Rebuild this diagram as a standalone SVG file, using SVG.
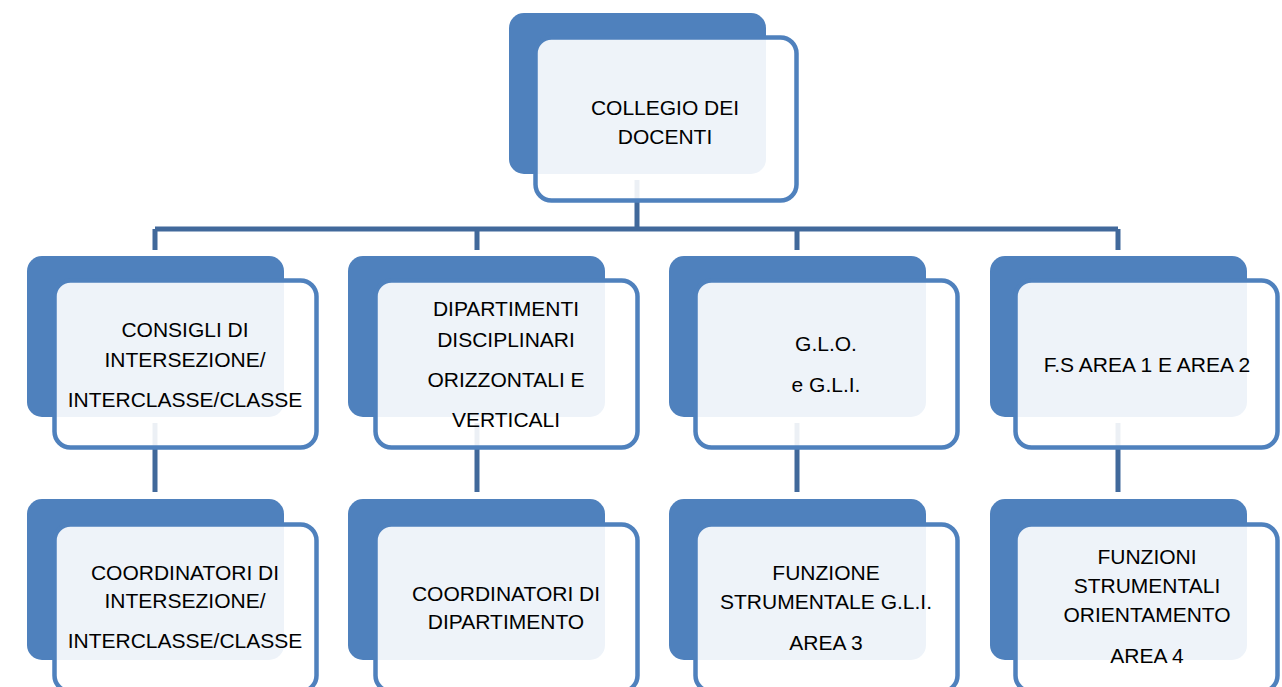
<svg xmlns="http://www.w3.org/2000/svg" width="1282" height="687" viewBox="0 0 1282 687">
<style>
.back{fill:#4f81bd}
.front{fill:#ffffff;fill-opacity:0.9;stroke:#4f81bd;stroke-width:4.5}
.conn{fill:none;stroke:#41699b;stroke-width:5}
text{font-family:"Liberation Sans",Arial,sans-serif;font-size:21px;fill:#000;text-anchor:middle}
</style>
<rect width="1282" height="687" fill="#ffffff"/>
<g id="connectors">
<path class="conn" d="M637 180V229M155 229H1118M155 229V250M477 229V250M797 229V250M1118 229V250"/>
<path class="conn" d="M155 423V492M477 423V492M797 423V492M1118 423V492"/>
</g>
<g id="collegio">
<rect class="back" x="509" y="13" width="257" height="161" rx="15"/>
<rect class="front" x="535.5" y="37.5" width="261" height="163" rx="16"/>
<text x="665" y="115">COLLEGIO DEI</text>
<text x="665" y="144">DOCENTI</text>
</g>
<g id="consigli">
<rect class="back" x="27" y="256" width="257" height="161" rx="15"/>
<rect class="front" x="54.5" y="280.5" width="262" height="167" rx="16"/>
<text x="185" y="337">CONSIGLI DI</text>
<text x="185" y="367">INTERSEZIONE/</text>
<text x="185" y="407">INTERCLASSE/CLASSE</text>
</g>
<g id="dipartimenti">
<rect class="back" x="348" y="256" width="257" height="161" rx="15"/>
<rect class="front" x="375.5" y="280.5" width="262" height="167" rx="16"/>
<text x="506" y="316">DIPARTIMENTI</text>
<text x="506" y="347">DISCIPLINARI</text>
<text x="506" y="387">ORIZZONTALI E</text>
<text x="506" y="427">VERTICALI</text>
</g>
<g id="glo">
<rect class="back" x="669" y="256" width="257" height="161" rx="15"/>
<rect class="front" x="695.5" y="280.5" width="262" height="167" rx="16"/>
<text x="826" y="351">G.L.O.</text>
<text x="826" y="392">e G.L.I.</text>
</g>
<g id="fs">
<rect class="back" x="990" y="256" width="257" height="161" rx="15"/>
<rect class="front" x="1015.5" y="280.5" width="262" height="167" rx="16"/>
<text x="1147" y="372">F.S AREA 1 E AREA 2</text>
</g>
<g id="coordinatori-classe">
<rect class="back" x="27" y="499" width="257" height="161" rx="15"/>
<rect class="front" x="54.5" y="524.5" width="262" height="167" rx="16"/>
<text x="185" y="580">COORDINATORI DI</text>
<text x="185" y="608">INTERSEZIONE/</text>
<text x="185" y="648">INTERCLASSE/CLASSE</text>
</g>
<g id="coordinatori-dipartimento">
<rect class="back" x="348" y="499" width="257" height="161" rx="15"/>
<rect class="front" x="375.5" y="524.5" width="262" height="167" rx="16"/>
<text x="506" y="601">COORDINATORI DI</text>
<text x="506" y="629">DIPARTIMENTO</text>
</g>
<g id="funzione-gli">
<rect class="back" x="669" y="499" width="257" height="161" rx="15"/>
<rect class="front" x="695.5" y="524.5" width="262" height="167" rx="16"/>
<text x="826" y="580">FUNZIONE</text>
<text x="826" y="609">STRUMENTALE G.L.I.</text>
<text x="826" y="650">AREA 3</text>
</g>
<g id="funzioni-orientamento">
<rect class="back" x="990" y="499" width="257" height="161" rx="15"/>
<rect class="front" x="1015.5" y="524.5" width="262" height="167" rx="16"/>
<text x="1147" y="564">FUNZIONI</text>
<text x="1147" y="593">STRUMENTALI</text>
<text x="1147" y="622">ORIENTAMENTO</text>
<text x="1147" y="663">AREA 4</text>
</g>
</svg>
